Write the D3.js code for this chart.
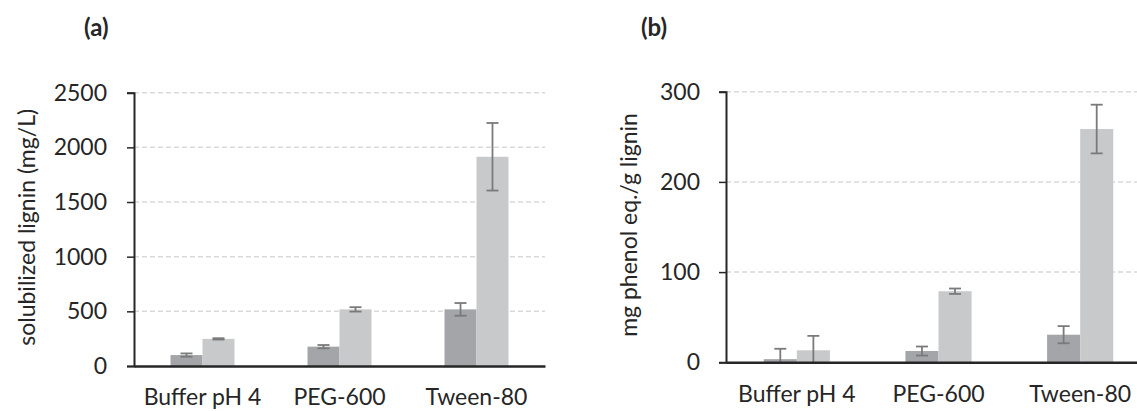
<!DOCTYPE html>
<html>
<head>
<meta charset="utf-8">
<script src="https://cdn.jsdelivr.net/npm/d3@7"></script>
<style>
  html, body { margin: 0; padding: 0; background: #fff; }
  svg { display: block; }
  text { font-family: Lato, "Noto Sans", sans-serif; fill: #262626; }
</style>
</head>
<body>
<svg id="fig" width="1137" height="411"></svg>
<script>
// Treatments on the category axis
const categories = ["Buffer pH 4", "PEG-600", "Tween-80"];
const seriesNames = ["s1", "s2"];

// (a) solubilized lignin, mg/L
const ligninDark = [100, 177, 518];
const ligninDarkErr = [15, 15, 58];
const ligninLight = [248, 518, 1914];
const ligninLightErr = [6, 20, 309];
const ligninTicks = [0, 500, 1000, 1500, 2000, 2500];

// (b) phenolic content, mg phenol eq./g lignin
const phenolDark = [3.5, 12.5, 30.6];
const phenolDarkErr = [11.5, 5, 9.5];
const phenolLight = [13.3, 78.8, 258.6];
const phenolLightErr = [16, 3, 27];
const phenolTicks = [0, 100, 200, 300];

const colors = { s1: "#a4a5a8", s2: "#c8c9cb" };
const FONT = "Lato, 'Noto Sans', sans-serif";
const svg = d3.select("#fig");

function panel(opt) {
  const g = svg.append("g");
  const x = d3.scaleBand().domain(categories)
    .range([opt.x0, opt.x1]).paddingInner(0.533).paddingOuter(0.2665);
  const xs = d3.scaleBand().domain(seriesNames).range([0, x.bandwidth()]);
  const y = d3.scaleLinear().domain([0, opt.max]).range([opt.y0, opt.y1]);

  // dashed gridlines
  g.append("g").selectAll("line").data(opt.ticks.filter(t => t > 0)).join("line")
    .attr("x1", opt.x0).attr("x2", opt.x1)
    .attr("y1", d => y(d)).attr("y2", d => y(d))
    .attr("stroke", "#d9d9d9").attr("stroke-width", 1.5)
    .attr("stroke-dasharray", "5,3");

  const rows = categories.map((c, i) => ({
    c,
    vals: [
      { s: "s1", v: opt.dark[i], e: opt.darkErr[i] },
      { s: "s2", v: opt.light[i], e: opt.lightErr[i] }
    ]
  }));

  const grp = g.append("g").selectAll("g").data(rows).join("g")
    .attr("transform", d => `translate(${x(d.c)},0)`);

  grp.selectAll("rect").data(d => d.vals).join("rect")
    .attr("x", d => xs(d.s)).attr("width", xs.bandwidth())
    .attr("y", d => y(d.v)).attr("height", d => y(0) - y(d.v))
    .attr("fill", d => colors[d.s]);

  // error bars (lower end clipped at the axis)
  const eb = grp.selectAll("g.err").data(d => d.vals).join("g").attr("class", "err")
    .attr("stroke", "#7a7a7a").attr("stroke-width", 1.8);
  const cx = d => xs(d.s) + xs.bandwidth() / 2;
  const cap = 6;
  eb.append("line")
    .attr("x1", cx).attr("x2", cx)
    .attr("y1", d => y(d.v + d.e)).attr("y2", d => y(Math.max(0, d.v - d.e)));
  eb.append("line")
    .attr("x1", d => cx(d) - cap).attr("x2", d => cx(d) + cap)
    .attr("y1", d => y(d.v + d.e)).attr("y2", d => y(d.v + d.e));
  eb.filter(d => d.v - d.e > 0).append("line")
    .attr("x1", d => cx(d) - cap).attr("x2", d => cx(d) + cap)
    .attr("y1", d => y(d.v - d.e)).attr("y2", d => y(d.v - d.e));

  // y axis
  const ya = d3.axisLeft(y).tickValues(opt.ticks).tickSize(7).tickPadding(opt.pad).tickFormat(d3.format("d"));
  const yg = g.append("g").attr("transform", `translate(${opt.x0},0)`).call(ya);
  yg.select(".domain").attr("stroke", "#262626").attr("stroke-width", 2);
  yg.selectAll(".tick line").attr("stroke", "#262626").attr("stroke-width", 1.5);
  yg.selectAll(".tick text").attr("font-size", 23).attr("fill", "#262626")
    .attr("font-family", FONT);

  // x axis
  const xa = d3.axisBottom(x).tickSize(0).tickPadding(23);
  const xg = g.append("g").attr("transform", `translate(0,${opt.y0})`).call(xa);
  xg.select(".domain").attr("stroke", "#262626").attr("stroke-width", 2.5);
  xg.selectAll(".tick text").attr("font-size", 23).attr("fill", "#262626")
    .attr("font-family", FONT);

  // axis title
  g.append("text")
    .attr("transform", `translate(${opt.titleX},${(opt.y0 + opt.y1) / 2 - 2}) rotate(-90)`)
    .attr("text-anchor", "middle").attr("font-size", 23)
    .text(opt.title);

  // panel letter
  g.append("text").attr("x", opt.labelX).attr("y", 36)
    .attr("font-size", 24).attr("font-weight", "bold")
    .text(opt.label);
}

panel({
  x0: 134, x1: 545, y0: 366, y1: 92.7, max: 2500, ticks: ligninTicks, pad: 20,
  dark: ligninDark, darkErr: ligninDarkErr, light: ligninLight, lightErr: ligninLightErr,
  title: "solubilized lignin (mg/L)", titleX: 35, label: "(a)", labelX: 84
});

panel({
  x0: 726, x1: 1151, y0: 362.3, y1: 91.7, max: 300, ticks: phenolTicks, pad: 19,
  dark: phenolDark, darkErr: phenolDarkErr, light: phenolLight, lightErr: phenolLightErr,
  title: "mg phenol eq./g lignin", titleX: 637, label: "(b)", labelX: 641
});
</script>
</body>
</html>
